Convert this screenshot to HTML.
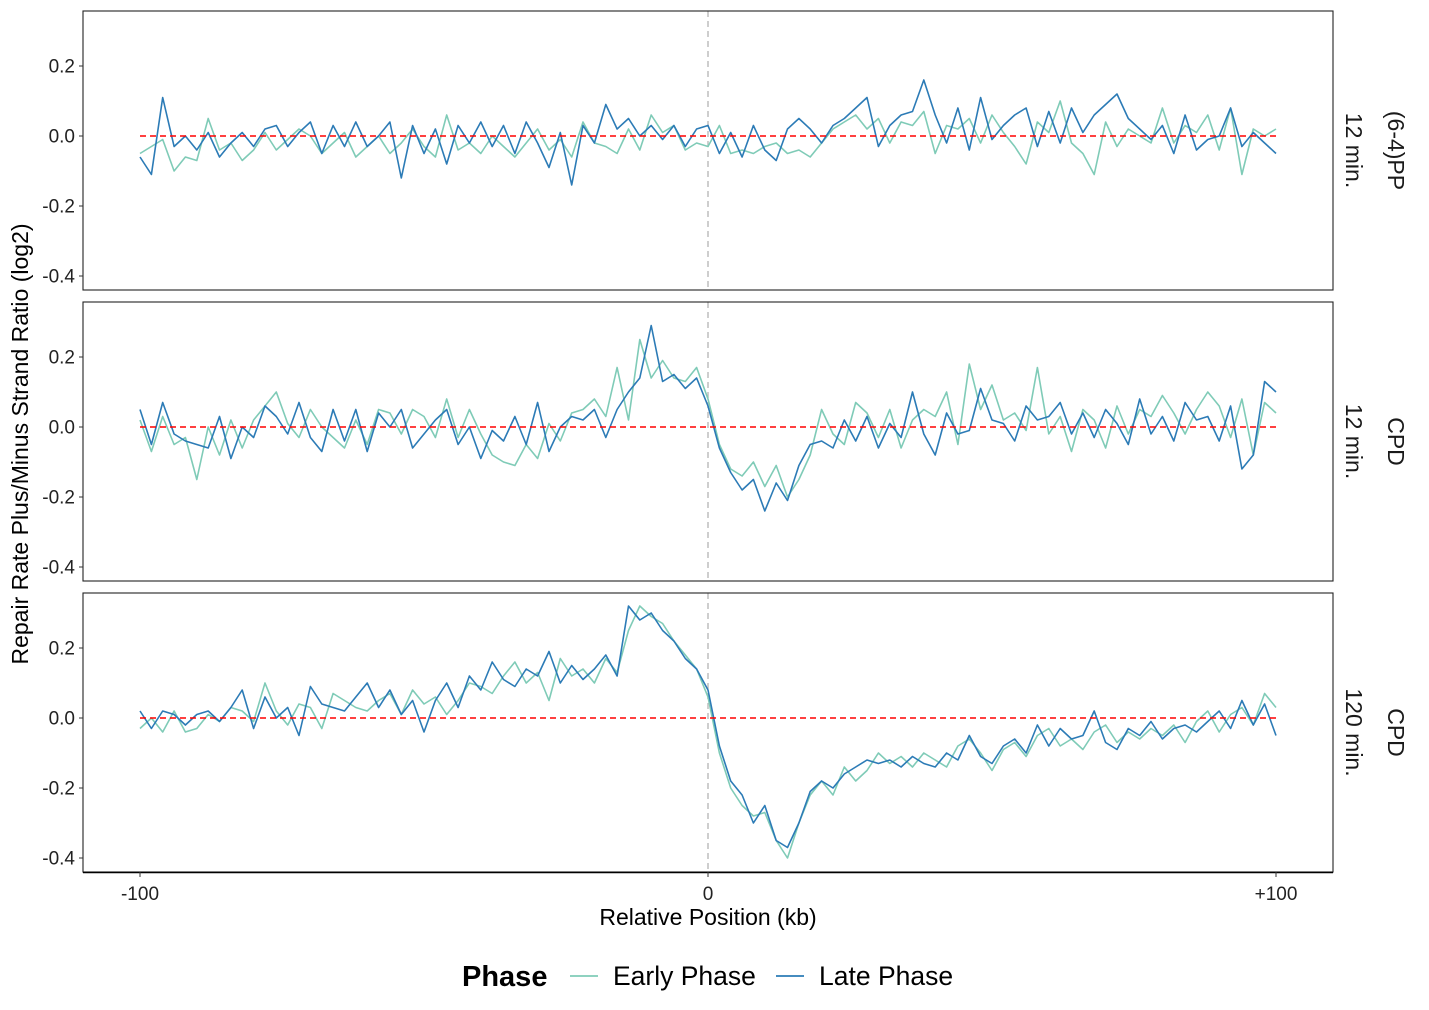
<!DOCTYPE html>
<html><head><meta charset="utf-8">
<style>
html,body{margin:0;padding:0;background:#fff;}
svg{display:block;font-family:"Liberation Sans",sans-serif;}
</style></head>
<body>
<svg id="chart" width="1429" height="1010" viewBox="0 0 1429 1010" xmlns="http://www.w3.org/2000/svg"></svg>
<script>
const panelLabels = [["(6-4)PP","12 min."],["CPD","12 min."],["CPD","120 min."]];
const yTicks = [0.2, 0.0, -0.2, -0.4];
const yTickLabels = ["0.2","0.0","-0.2","-0.4"];
const xTicks = [-100, 0, 100];
const xTickLabels = ["-100","0","+100"];
const seriesNames = ["Early Phase","Late Phase"];

const p1Early = [-0.05,-0.03,-0.01,-0.10,-0.06,-0.07,0.05,-0.04,-0.02,-0.07,
-0.04,0.01,-0.04,-0.01,0.02,0.00,-0.05,-0.02,0.01,-0.06,
-0.03,0.00,-0.05,-0.02,0.02,-0.03,-0.06,0.06,-0.04,-0.02,
-0.05,0.00,-0.03,-0.06,-0.02,0.02,-0.04,-0.01,-0.06,0.04,
-0.02,-0.03,-0.05,0.02,-0.04,0.06,0.01,0.03,-0.04,-0.02,
-0.03,0.03,-0.05,-0.04,-0.05,-0.03,-0.02,-0.05,-0.04,-0.06,
-0.02,0.02,0.04,0.06,0.02,0.05,-0.02,0.04,0.03,0.07,
-0.05,0.03,0.02,0.05,-0.02,0.06,0.01,-0.03,-0.08,0.04,
0.01,0.10,-0.02,-0.05,-0.11,0.04,-0.03,0.02,0.00,-0.02,
0.08,-0.02,0.03,0.01,0.06,-0.04,0.08,-0.11,0.02,0.00,0.02];
const p1Late = [-0.06,-0.11,0.11,-0.03,0.00,-0.04,0.01,-0.06,-0.02,0.01,
-0.03,0.02,0.03,-0.03,0.01,0.04,-0.05,0.03,-0.03,0.04,
-0.03,0.00,0.04,-0.12,0.03,-0.05,0.02,-0.08,0.03,-0.02,
0.04,-0.03,0.03,-0.05,0.04,-0.02,-0.09,0.01,-0.14,0.03,
-0.02,0.09,0.02,0.05,0.00,0.03,-0.01,0.03,-0.03,0.02,
0.03,-0.05,0.01,-0.06,0.03,-0.04,-0.07,0.02,0.05,0.02,
-0.02,0.03,0.05,0.08,0.11,-0.03,0.03,0.06,0.07,0.16,
0.06,-0.02,0.08,-0.04,0.11,-0.01,0.03,0.06,0.08,-0.03,
0.07,-0.02,0.08,0.01,0.06,0.09,0.12,0.05,0.02,-0.01,
0.03,-0.05,0.06,-0.04,-0.01,0.00,0.08,-0.03,0.01,-0.02,-0.05];
const p2Early = [0.02,-0.07,0.03,-0.05,-0.03,-0.15,0.00,-0.08,0.02,-0.06,
0.02,0.06,0.10,0.01,-0.03,0.05,0.00,-0.03,-0.06,0.02,
-0.05,0.05,0.04,-0.02,0.05,0.03,-0.03,0.08,-0.03,0.05,
-0.02,-0.08,-0.10,-0.11,-0.05,-0.09,0.01,-0.04,0.04,0.05,
0.08,0.03,0.17,0.02,0.25,0.14,0.19,0.14,0.13,0.17,
0.08,-0.05,-0.12,-0.14,-0.10,-0.17,-0.11,-0.20,-0.15,-0.08,
0.05,-0.02,-0.05,0.07,0.04,-0.03,0.05,-0.06,0.02,0.05,
0.03,0.10,-0.05,0.18,0.05,0.12,0.02,0.04,-0.01,0.17,
-0.02,0.03,-0.07,0.05,0.02,-0.06,0.06,-0.02,0.05,0.03,
0.09,0.04,-0.02,0.05,0.10,0.06,-0.03,0.08,-0.08,0.07,0.04];
const p2Late = [0.05,-0.05,0.07,-0.02,-0.04,-0.05,-0.06,0.03,-0.09,0.00,
-0.03,0.06,0.03,-0.02,0.07,-0.03,-0.07,0.05,-0.04,0.05,
-0.07,0.04,0.00,0.05,-0.06,-0.02,0.02,0.05,-0.05,0.00,
-0.09,-0.01,-0.04,0.03,-0.05,0.07,-0.07,0.00,0.03,0.02,
0.05,-0.03,0.05,0.10,0.14,0.29,0.13,0.15,0.11,0.14,
0.06,-0.06,-0.13,-0.18,-0.15,-0.24,-0.16,-0.21,-0.11,-0.05,
-0.04,-0.06,0.02,-0.04,0.03,-0.06,0.01,-0.03,0.10,-0.02,
-0.08,0.04,-0.02,-0.01,0.11,0.02,0.01,-0.04,0.06,0.02,
0.03,0.07,-0.02,0.04,-0.03,0.05,0.01,-0.05,0.08,-0.02,
0.03,-0.04,0.07,0.02,0.03,-0.04,0.06,-0.12,-0.08,0.13,0.10];
const p3Early = [-0.03,0.00,-0.04,0.02,-0.04,-0.03,0.01,-0.01,0.03,0.02,
-0.01,0.10,0.02,-0.02,0.04,0.03,-0.03,0.07,0.05,0.03,
0.02,0.05,0.07,0.01,0.08,0.04,0.06,0.01,0.05,0.10,
0.09,0.07,0.12,0.16,0.10,0.13,0.05,0.17,0.12,0.14,
0.10,0.17,0.13,0.25,0.32,0.29,0.27,0.22,0.18,0.14,
0.06,-0.10,-0.20,-0.25,-0.28,-0.27,-0.35,-0.40,-0.30,-0.22,
-0.18,-0.22,-0.14,-0.18,-0.15,-0.10,-0.13,-0.11,-0.14,-0.10,
-0.12,-0.14,-0.08,-0.06,-0.10,-0.15,-0.09,-0.07,-0.11,-0.05,
-0.03,-0.08,-0.06,-0.09,-0.04,-0.02,-0.07,-0.04,-0.06,-0.03,
-0.05,-0.02,-0.07,-0.01,0.02,-0.04,0.01,0.03,-0.02,0.07,0.03];
const p3Late = [0.02,-0.03,0.02,0.01,-0.02,0.01,0.02,-0.01,0.03,0.08,
-0.03,0.06,0.00,0.03,-0.05,0.09,0.04,0.03,0.02,0.06,
0.10,0.03,0.08,0.01,0.05,-0.04,0.05,0.10,0.03,0.12,
0.08,0.16,0.11,0.09,0.14,0.12,0.19,0.10,0.15,0.11,
0.14,0.18,0.12,0.32,0.28,0.30,0.25,0.22,0.17,0.14,
0.08,-0.08,-0.18,-0.22,-0.30,-0.25,-0.35,-0.37,-0.30,-0.21,
-0.18,-0.20,-0.16,-0.14,-0.12,-0.13,-0.12,-0.14,-0.11,-0.13,
-0.14,-0.10,-0.12,-0.05,-0.11,-0.13,-0.08,-0.06,-0.10,-0.02,
-0.08,-0.03,-0.06,-0.05,0.02,-0.07,-0.09,-0.03,-0.05,-0.01,
-0.06,-0.03,-0.02,-0.04,-0.01,0.02,-0.03,0.05,-0.02,0.04,-0.05];

const panelSeries = [[p1Early,p1Late],[p2Early,p2Late],[p3Early,p3Late]];
const colors = ["#7fcbb7","#2c7bb6"];
const NS = "http://www.w3.org/2000/svg";
const svg = document.getElementById("chart");
const left = 83, right = 1333;
const panelTops = [11, 302, 593];
const panelH = 279;
function xScale(v){ return 708 + v * 5.68; }
function yScale(p, v){ return panelTops[p] + 125 - v * 350; }
function mk(tag, attrs, parent){
  const e = document.createElementNS(NS, tag);
  for (const k in attrs) e.setAttribute(k, attrs[k]);
  (parent || svg).appendChild(e);
  return e;
}
panelSeries.forEach((ser, p) => {
  const g = mk("g", {});
  
  
  const top = panelTops[p];
  const vline = mk("line", {x1:xScale(0), x2:xScale(0), y1:top, y2:top+panelH, stroke:"#bdbdbd", "stroke-width":1.5, "stroke-dasharray":"6,4"}, g);
  
  
  ser.forEach((arr, s) => {
    const n = arr.length;
    const pts = arr.map((v, i) => xScale(-100 + i * 200 / (n - 1)).toFixed(1) + "," + yScale(p, v).toFixed(1)).join(" ");
    const pl = mk("polyline", {points:pts, fill:"none", stroke:colors[s], "stroke-width":1.6, "stroke-linejoin":"round"}, g);
    
    
  });
  const zl = mk("line", {x1:xScale(-100), x2:xScale(100), y1:yScale(p,0), y2:yScale(p,0), stroke:"#ff0000", "stroke-width":1.5, "stroke-dasharray":"6,4"}, g);
  
  
  const box = mk("rect", {x:left, y:top, width:right-left, height:panelH, fill:"none", stroke:"#222", "stroke-width":1.1}, g);
  
  
  yTicks.forEach((t, i) => {
    const y = yScale(p, t);
    mk("line", {x1:left-4, x2:left, y1:y, y2:y, stroke:"#333", "stroke-width":1}, g);
    const tx = mk("text", {x:left-8, y:y+6.5, "text-anchor":"end", "font-size":19, fill:"#222"}, g);
    tx.textContent = yTickLabels[i];
    
    
  });
  const cy = top + panelH / 2;
  panelLabels[p].forEach((lab, k) => {
    const xx = k === 0 ? 1388 : 1346;
    const st = mk("text", {x:xx, y:cy, transform:"rotate(90 " + xx + " " + cy + ")", "text-anchor":"middle", "font-size":23, fill:"#1a1a1a"}, g);
    st.textContent = lab;
    
    
  });
});
const axisLine = mk("line", {x1:left, x2:right, y1:872.5, y2:872.5, stroke:"#000", "stroke-width":1.5});


xTicks.forEach((t, i) => {
  mk("line", {x1:xScale(t), x2:xScale(t), y1:872, y2:877, stroke:"#333", "stroke-width":1});
  const tx = mk("text", {x:xScale(t), y:900, "text-anchor":"middle", "font-size":19, fill:"#222"});
  tx.textContent = xTickLabels[i];
  
  
});
const xt = mk("text", {x:708, y:925, "text-anchor":"middle", "font-size":23, fill:"#000"});
xt.textContent = "Relative Position (kb)";


const yt = mk("text", {x:28, y:444, transform:"rotate(-90 28 444)", "text-anchor":"middle", "font-size":23, fill:"#000"});
yt.textContent = "Repair Rate Plus/Minus Strand Ratio (log2)";


const lg = mk("g", {});


const lt = mk("text", {x:462, y:986, "font-size":29, "font-weight":"bold", fill:"#000"}, lg);
lt.textContent = "Phase";


const legX = [570, 776];
seriesNames.forEach((nm, s) => {
  const ln = mk("line", {x1:legX[s], x2:legX[s]+28, y1:976, y2:976, stroke:colors[s], "stroke-width":1.8}, lg);
  
  
  const tx = mk("text", {x:legX[s]+43, y:985, "font-size":26.5, fill:"#000"}, lg);
  tx.textContent = nm;
  
  
});
</script>
</body></html>
